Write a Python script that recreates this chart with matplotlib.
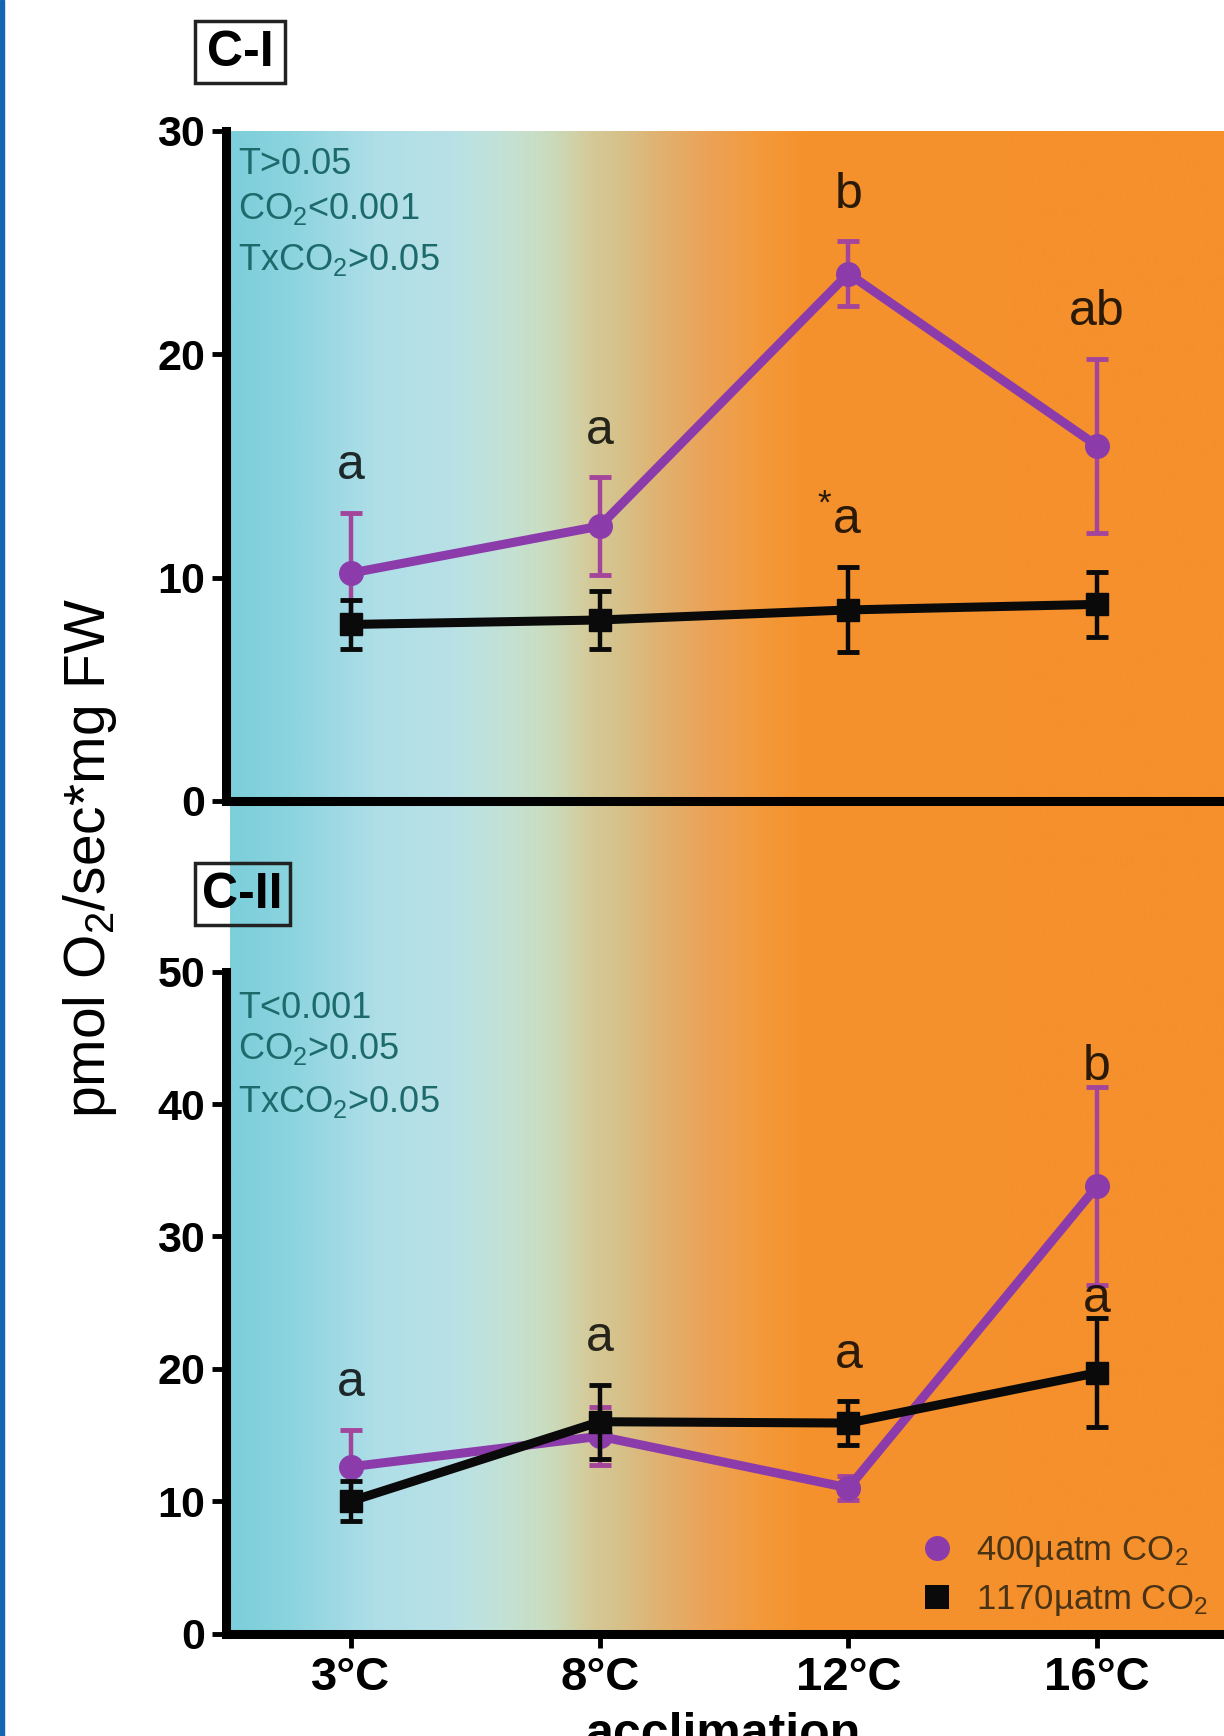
import numpy as np
import matplotlib
matplotlib.use("Agg")
from matplotlib import pyplot as plt
from matplotlib.colors import LinearSegmentedColormap
from matplotlib.lines import Line2D
from matplotlib.patches import Rectangle

plt.rcParams['font.family'] = ['Liberation Sans', 'DejaVu Sans']
plt.rcParams['mathtext.fontset'] = 'custom'
plt.rcParams['mathtext.rm'] = 'Liberation Sans'
plt.rcParams['mathtext.default'] = 'regular'

temps = ["3°C", "8°C", "12°C", "16°C"]

# panel C-I
ci_400 = [10.2, 12.3, 23.6, 15.9]
ci_400_err = [2.7, 2.2, 1.45, 3.9]
ci_1170 = [7.9, 8.1, 8.55, 8.8]
ci_1170_err = [1.1, 1.3, 1.9, 1.45]
ci_400_letters = ["a", "a", "b", "ab"]
ci_1170_letters = ["", "", "$^{*}$a", ""]
ci_stats = ["T>0.05", "CO$_2$<0.001", "TxCO$_2$>0.05"]

# panel C-II
cii_400 = [12.6, 14.9, 11.0, 33.8]
cii_400_err = [2.8, 2.2, 0.9, 7.5]
cii_1170 = [10.0, 16.0, 15.9, 19.7]
cii_1170_err = [1.5, 2.8, 1.65, 4.1]
cii_400_letters = ["a", "", "", "b"]
cii_1170_letters = ["", "a", "a", "a"]
cii_stats = ["T<0.001", "CO$_2$>0.05", "TxCO$_2$>0.05"]

series_labels = ["400µatm CO$_2$", "1170µatm CO$_2$"]

W, H = 1224, 1736
PURPLE = "#8c3caa"
PURPLE_ERR = "#a4459c"
BLACK = "#0a0a0a"
STAT_COL = "#1d6a6c"
LETTER_COL = (0, 0, 0, 0.82)

bg_stops = [(0.0, "#7ccfdb"), (0.05, "#88d3de"), (0.15, "#b0dfe8"), (0.22, "#b8e1e6"),
            (0.27, "#c2e2d8"), (0.32, "#cadcbe"), (0.365, "#d5c996"), (0.39, "#d6c28b"),
            (0.425, "#dfb474"), (0.475, "#eaa45a"), (0.53, "#f39a3c"), (0.575, "#f5922e"),
            (1.0, "#f5902c")]
bg_cmap = LinearSegmentedColormap.from_list("accl", bg_stops)

fig = plt.figure(figsize=(W / 100, H / 100), dpi=100)

# blue frame strip on the left edge
fig.patches.append(Rectangle((0, 0), 4 / W, 1, transform=fig.transFigure,
                             color="#1565b5", zorder=0))

# gradient backdrop shared by both panels
bg = fig.add_axes([230 / W, 1 - 1633.5 / H, 1 - 230 / W, (1633.5 - 130.6) / H], zorder=0)
bg.imshow(np.linspace(0, 1, 600)[None, :], aspect="auto", cmap=bg_cmap,
          extent=[0, 1, 0, 1], interpolation="bilinear")
bg.axis("off")

x = np.arange(len(temps))
xlim = ((226 - 351) / 248.7, (1224 - 351) / 248.7)


def panel(rect, ymax, yticks, s400, e400, s1170, e1170, let400, let1170, small_off=()):
    ax = fig.add_axes(rect, zorder=1)
    ax.set_facecolor("none")
    # no markeredgewidth here: it would override capthick and hide the caps
    ax.errorbar(x, s400, yerr=e400, fmt="-o", color=PURPLE, ecolor=PURPLE_ERR, lw=6.5,
                ms=17, elinewidth=3.2, capsize=8, capthick=3.5, zorder=3)
    ax.errorbar(x, s1170, yerr=e1170, fmt="-s", color=BLACK, ecolor=BLACK, lw=6.5,
                ms=16, elinewidth=3.2, capsize=8, capthick=3.5, zorder=4)
    for i in range(len(x)):
        for vals, errs, lets in ((s400, e400, let400), (s1170, e1170, let1170)):
            if not lets[i]:
                continue
            off = 5 if i in small_off else 24
            dx = 10 if lets[i].startswith("$") else 0
            ax.annotate(lets[i], (x[i], vals[i] + errs[i]), xytext=(dx, off),
                        textcoords="offset points", ha="right" if dx else "center",
                        va="baseline", fontsize=36, color=LETTER_COL, zorder=5)
    ax.set_xlim(*xlim)
    ax.set_ylim(0, ymax)
    ax.set_yticks(yticks)
    ax.set_yticklabels([str(t) for t in yticks], fontsize=31, fontweight="bold")
    for sp in ("top", "right"):
        ax.spines[sp].set_visible(False)
    for sp in ("left", "bottom"):
        ax.spines[sp].set_linewidth(6.5)
    ax.tick_params(axis="y", length=10, width=3.5, pad=5)
    return ax


ax1 = panel([226 / W, 1 - 801 / H, 1 - 226 / W, (801 - 130.6) / H], 30, [0, 10, 20, 30],
            ci_400, ci_400_err, ci_1170, ci_1170_err, ci_400_letters, ci_1170_letters)
ax1.tick_params(axis="x", length=0, labelbottom=False)

ax2 = panel([226 / W, 1 - 1633.5 / H, 1 - 226 / W, (1633.5 - 971.7) / H], 50,
            [0, 10, 20, 30, 40, 50], cii_400, cii_400_err, cii_1170, cii_1170_err,
            cii_400_letters, cii_1170_letters, small_off=(3,))
ax2.set_xticks(x)
ax2.set_xticklabels(temps, fontsize=34, fontweight="bold")
ax2.tick_params(axis="x", length=10, width=3.5, pad=6)

# statistics text
for lines, base in ((ci_stats, (174, 219, 270)), (cii_stats, (1018, 1059, 1112))):
    for s, yb in zip(lines, base):
        fig.text(238 / W, 1 - yb / H, s, fontsize=26, color=STAT_COL, va="baseline", zorder=6)

# panel tags
for tag, (x0, y0, x1, y1) in (("C-I", (195, 21, 285, 83)), ("C-II", (195, 863, 290, 925))):
    fig.patches.append(Rectangle((x0 / W, 1 - y1 / H), (x1 - x0) / W, (y1 - y0) / H,
                                 transform=fig.transFigure, fill=False, lw=2.5,
                                 edgecolor="#222222", zorder=6))
    fig.text((x0 + x1) / 2 / W, 1 - (y0 + 45) / H, tag, fontsize=36, fontweight="bold",
             ha="center", va="baseline", zorder=7)

# axis labels
fig.text(90 / W, 1 - 858 / H, "pmol O$_2$/sec*mg FW", rotation=90, fontsize=41,
         ha="center", va="center")
fig.text(723 / W, 1 - 1748 / H, "acclimation", fontsize=36, fontweight="bold",
         ha="center", va="baseline")

# legend
handles = [Line2D([], [], marker="o", ls="none", color=PURPLE, ms=18, mew=0),
           Line2D([], [], marker="s", ls="none", color=BLACK, ms=17, mew=0)]
leg = ax2.legend(handles, series_labels, loc="upper left",
                 bbox_to_anchor=(920 / W, 1 - 1534 / H), bbox_transform=fig.transFigure,
                 frameon=False, fontsize=25, handlelength=1.0, handletextpad=0.6,
                 borderpad=0, borderaxespad=0, labelspacing=0.4)
for t in leg.get_texts():
    t.set_color("#4a3315")

fig.savefig("out.png", dpi=100)
